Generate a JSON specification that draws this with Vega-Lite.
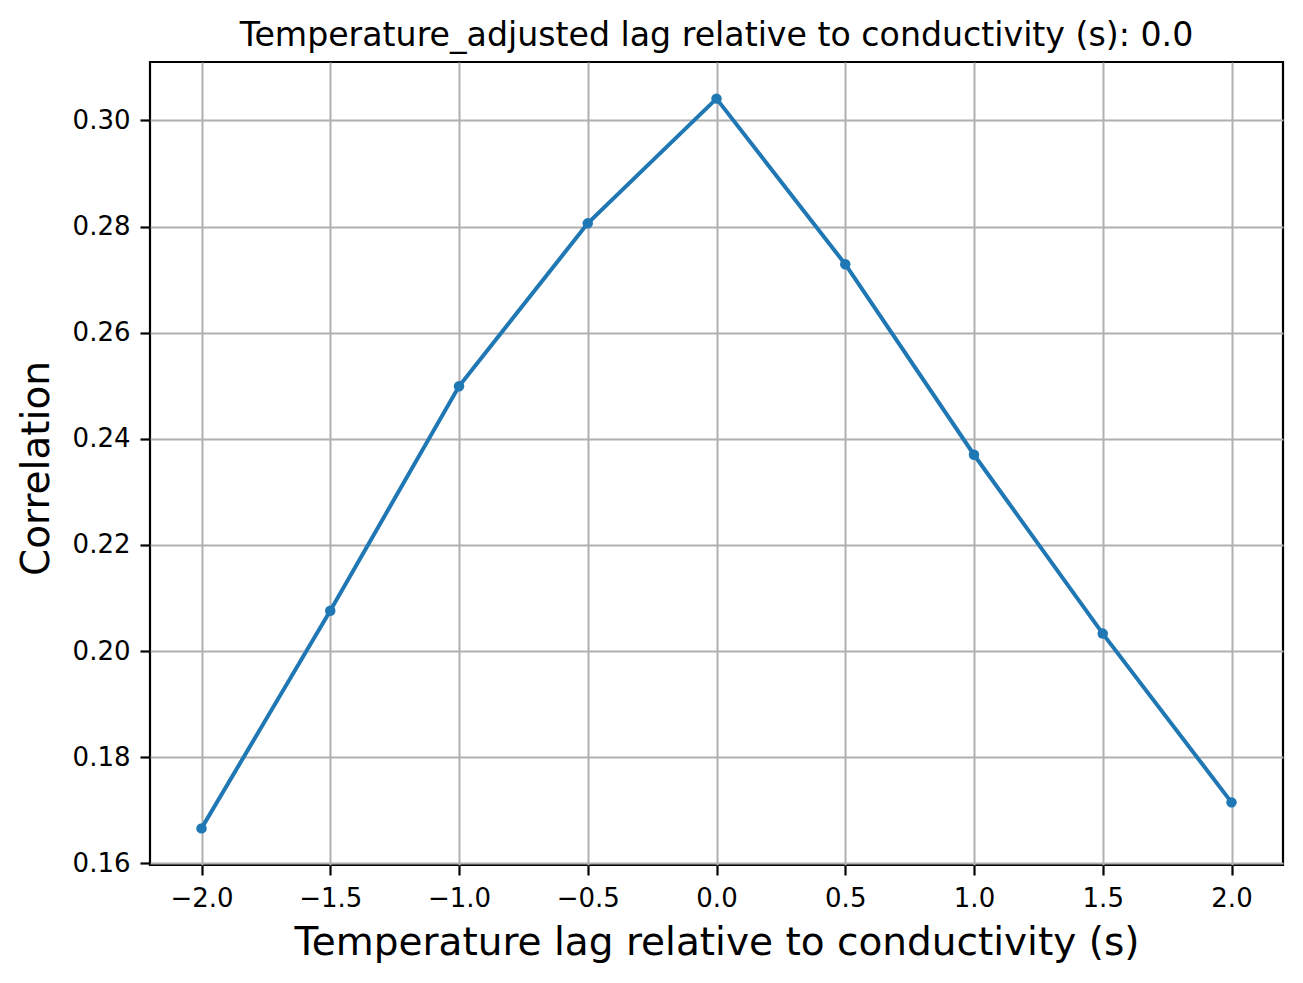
{
  "$schema": "https://vega.github.io/schema/vega-lite/v6.json",
  "autosize": "none",
  "width": 1133,
  "height": 803,
  "padding": {"left": 150, "top": 62, "right": 20, "bottom": 118},
  "background": "white",
  "title": {
    "text": "Temperature_adjusted lag relative to conductivity (s): 0.0",
    "font": "DejaVu Sans",
    "fontSize": 33.2,
    "fontWeight": "normal",
    "color": "black",
    "anchor": "middle",
    "baseline": "alphabetic",
    "offset": -17
  },
  "data": {
    "values": [
      {"lag": -2.0, "corr": 0.1666},
      {"lag": -1.5, "corr": 0.2076},
      {"lag": -1.0, "corr": 0.2499},
      {"lag": -0.5, "corr": 0.2806},
      {"lag": 0.0, "corr": 0.3041},
      {"lag": 0.5, "corr": 0.2729},
      {"lag": 1.0, "corr": 0.2370},
      {"lag": 1.5, "corr": 0.2033},
      {"lag": 2.0, "corr": 0.1715}
    ]
  },
  "encoding": {
    "x": {
      "field": "lag",
      "type": "quantitative",
      "scale": {"domain": [-2.2, 2.2], "nice": false, "zero": false},
      "axis": {
        "title": "Temperature lag relative to conductivity (s)",
        "values": [-2, -1.5, -1, -0.5, 0, 0.5, 1, 1.5, 2],
        "format": ".1f"
      }
    },
    "y": {
      "field": "corr",
      "type": "quantitative",
      "scale": {"domain": [0.1597, 0.311], "nice": false, "zero": false},
      "axis": {
        "title": "Correlation",
        "values": [0.16, 0.18, 0.2, 0.22, 0.24, 0.26, 0.28, 0.3],
        "format": ".2f",
        "titleY": 406
      }
    }
  },
  "layer": [
    {"mark": {"type": "line", "color": "#1f77b4", "strokeWidth": 4}},
    {"mark": {"type": "point", "filled": true, "color": "#1f77b4", "opacity": 1, "size": 110}}
  ],
  "config": {
    "view": {"stroke": "black", "strokeWidth": 2.2},
    "axis": {
      "domain": false,
      "grid": true,
      "gridColor": "#b0b0b0",
      "gridWidth": 2,
      "gridOpacity": 1,
      "tickColor": "black",
      "tickWidth": 2.2,
      "tickSize": 10,
      "labelFont": "DejaVu Sans",
      "labelFontSize": 26,
      "labelColor": "black",
      "labelPadding": 10,
      "labelFlush": false,
      "titleFont": "DejaVu Sans",
      "titleFontSize": 39,
      "titleFontWeight": "normal",
      "titleColor": "black"
    },
    "axisX": {"titlePadding": 12},
    "axisY": {"titlePadding": 16}
  }
}
